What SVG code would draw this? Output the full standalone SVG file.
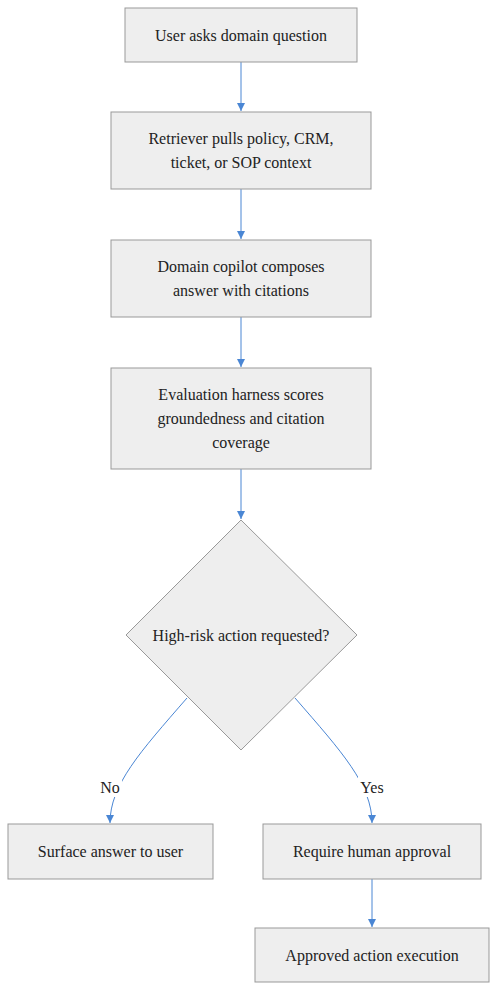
<svg xmlns="http://www.w3.org/2000/svg" width="497" height="991" viewBox="0 0 497 991">
<style>
.n{fill:#eeeeee;stroke:#999999;stroke-width:1}
.t{font-family:"Liberation Serif","Times New Roman",serif;font-size:16px;fill:#222222;text-anchor:middle;dominant-baseline:central}
.e{fill:none;stroke:#4a86d4;stroke-width:1}
.lb{fill:#ffffff}
</style>
<defs>
<marker id="ah" viewBox="0 0 10 10" refX="10" refY="5" markerWidth="8" markerHeight="8" markerUnits="userSpaceOnUse" orient="auto">
<path d="M0,0 L10,5 L0,10 z" fill="#4a86d4"/>
</marker>
</defs>
<rect width="497" height="991" fill="#ffffff"/>
<g id="connectors">
<path class="e" d="M241,62 L241,111" marker-end="url(#ah)"/>
<path class="e" d="M241,189 L241,239" marker-end="url(#ah)"/>
<path class="e" d="M241,317 L241,367" marker-end="url(#ah)"/>
<path class="e" d="M241,469 L241,519" marker-end="url(#ah)"/>
<path class="e" d="M187,698 C140,752 110,785 110,823" marker-end="url(#ah)"/>
<path class="e" d="M295,698 C342,752 372,785 372,823" marker-end="url(#ah)"/>
<path class="e" d="M372,879 L372,927" marker-end="url(#ah)"/>
<g id="label-no"><rect class="lb" x="98" y="777" width="24" height="20"/><text class="t" x="110" y="787">No</text></g>
<g id="label-yes"><rect class="lb" x="358" y="777" width="28" height="20"/><text class="t" x="372" y="787">Yes</text></g>
</g>
<g id="n1"><rect class="n" x="125" y="8" width="232" height="54"/><text class="t" x="241" y="35">User asks domain question</text></g>
<g id="n2"><rect class="n" x="111" y="112" width="260" height="77"/><text class="t" x="241" y="138">Retriever pulls policy, CRM,</text><text class="t" x="241" y="162">ticket, or SOP context</text></g>
<g id="n3"><rect class="n" x="111" y="240" width="260" height="77"/><text class="t" x="241" y="266">Domain copilot composes</text><text class="t" x="241" y="290">answer with citations</text></g>
<g id="n4"><rect class="n" x="111" y="368" width="260" height="101"/><text class="t" x="241" y="394">Evaluation harness scores</text><text class="t" x="241" y="418">groundedness and citation</text><text class="t" x="241" y="442">coverage</text></g>
<g id="d1"><polygon class="n" points="241,520 357,635 241,750 126,635"/><text class="t" x="241" y="635">High-risk action requested?</text></g>
<g id="n5"><rect class="n" x="8" y="824" width="205" height="55"/><text class="t" x="110.5" y="851.5">Surface answer to user</text></g>
<g id="n6"><rect class="n" x="263" y="824" width="218" height="55"/><text class="t" x="372" y="851.5">Require human approval</text></g>
<g id="n7"><rect class="n" x="255" y="928" width="234" height="54"/><text class="t" x="372" y="955">Approved action execution</text></g>
</svg>
